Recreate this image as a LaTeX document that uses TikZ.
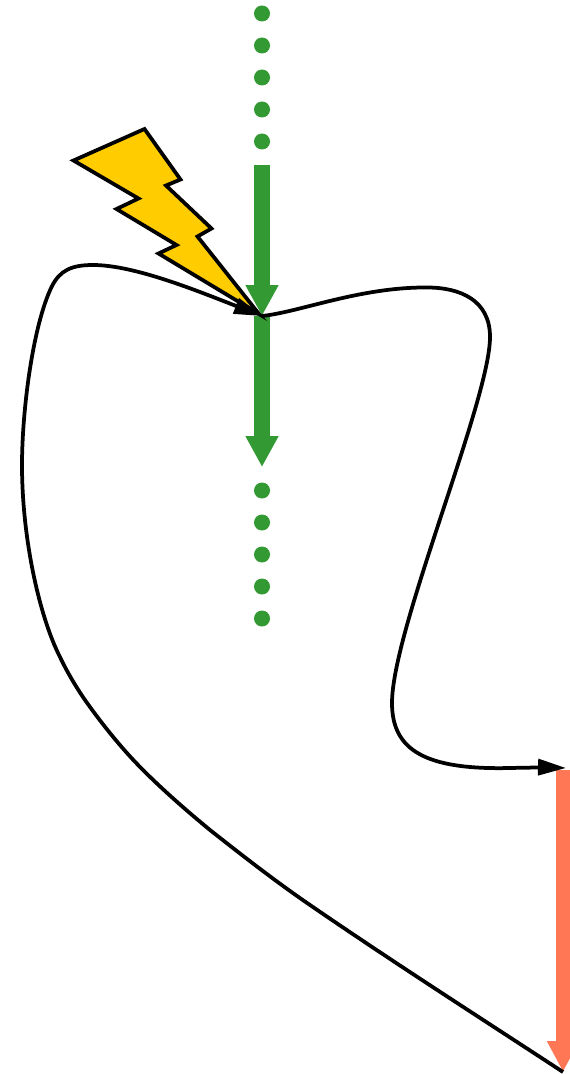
\documentclass[tikz,border=0pt]{standalone}
\usepackage{xcolor}
\usepackage{tikz}
\usetikzlibrary{arrows.meta}
\definecolor{pgreen}{HTML}{339933}
\definecolor{psalmon}{HTML}{FF7755}
\definecolor{pbolt}{HTML}{FFCC00}

\begin{document}
\begin{tikzpicture}[
  x=0.02cm,y=-0.02cm,
  dotn/.style={circle,fill=pgreen,inner sep=0pt,minimum size=0.32cm},
  ag/.style={-{Triangle[length=0.62cm,width=0.62cm]},draw=pgreen,line width=0.32cm},
  ar/.style={-{Triangle[length=0.62cm,width=0.6cm]},draw=psalmon,line width=0.29cm},
  ac/.style={-{Triangle[length=0.56cm,width=0.32cm]},draw=black,line width=0.075cm},
  bolt/.style={draw=black,fill=pbolt,line width=0.075cm,line join=miter}]

\clip (0,0) rectangle (570,1074);

% ------------------------------- dots --------------------------------------
\foreach \yy [count=\ii] in {13.5,45.5,77.5,109.5,141.5} {
  \node[dotn] (up\ii) at (262,\yy) {};
}
\foreach \yy [count=\ii] in {490.5,522.5,554.5,586.5,618.5} {
  \node[dotn] (dn\ii) at (262,\yy) {};
}

% ------------------------------- ends --------------------------------------
\coordinate (gtop) at (262,165);
\coordinate (hit)  at (262,316);
\coordinate (gbot) at (262,467);
\coordinate (rtop) at (566,768);
\coordinate (rbot) at (563,1072);
\coordinate (rstart) at (563,770);

\draw[ag] (gtop) -- (hit);
\draw[ag] (hit) -- (gbot);
\draw[ar] (rstart) -- (rbot);

% ------------------------------- bolt --------------------------------------
\draw[bolt] (73.5,160.5) -- (144.5,129) -- (180.5,179.5) -- (166,185.5)
  -- (211.5,228.5) -- (197.5,236.5) -- (259,314) -- (158.5,253.5)
  -- (176.5,245) -- (116.5,209) -- (138.5,198.5) -- cycle;

% ------------------------------ curves -------------------------------------
\draw[ac] (hit) .. controls (300,312) and (360,287) .. (427,287.5)
  .. controls (460,287.5) and (490,300) .. (490,337)
  .. controls (490,400) and (392,630) .. (392,703)
  .. controls (392,750) and (425,770) .. (510,768)
  .. controls (530,767.5) and (550,767.5) .. (rtop);
\draw[ac] (rbot) .. controls (479,1017) and (393,962) .. (310,905)
  .. controls (275,881) and (243,856) .. (210,830)
  .. controls (187,811) and (164,791) .. (143,770)
  .. controls (124,751) and (106,729) .. (90,707)
  .. controls (79,692) and (68,674) .. (60,657)
  .. controls (40,618) and (22,540) .. (22,465)
  .. controls (22,410) and (33,325) .. (51.7,286.7)
  .. controls (60,270) and (72,265) .. (93,265)
  .. controls (135,265) and (200,292) .. (hit);
\end{tikzpicture}
\end{document}
